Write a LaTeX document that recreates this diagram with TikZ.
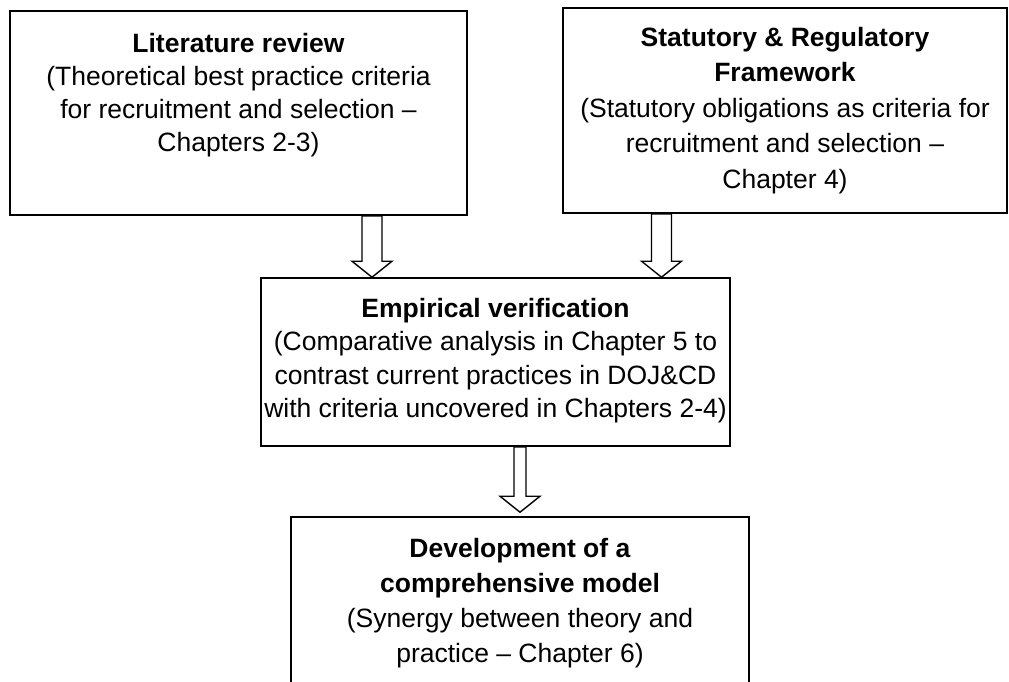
\documentclass[tikz,border=0pt]{standalone}
\usepackage{fontspec}
\setmainfont{Liberation Sans}
\usetikzlibrary{calc}

% hollow block arrow from the bottom of one box to the top of another
% #1 column coordinate, #2 source box, #3 target box, #4 shaft half width, #5 gap above target
\newcommand\blockarrow[5]{%
  \draw[arrowbody]
    ($(#2.south -| #1)+(-#4,0)$) -- ($(#3.north -| #1)+(-#4,-16-#5)$)
    -- ($(#3.north -| #1)+(-20,-16-#5)$) -- ($(#3.north -| #1)+(0,-#5)$)
    -- ($(#3.north -| #1)+(20,-16-#5)$) -- ($(#3.north -| #1)+(#4,-16-#5)$)
    -- ($(#2.south -| #1)+(#4,0)$) -- cycle;}

\begin{document}
\begin{tikzpicture}[x=1pt,y=-1pt,
  flowbox/.style={draw=black, line width=1.6pt, fill=white, inner sep=0pt},
  boxtext/.style={anchor=north, inner sep=0pt, align=center,
    font=\fontsize{26.5}{33}\selectfont},
  arrowbody/.style={draw=black, line width=1.4pt, fill=white, line join=miter}]
  \useasboundingbox (0,0) rectangle (1009,681);
  \clip (0,0) rectangle (1009,681);

  % boxes
  \node[flowbox, minimum width=457pt, minimum height=204pt] (lit) at (238.5,113) {};
  \node[flowbox, minimum width=444pt, minimum height=205pt] (stat) at (785,110.5) {};
  \node[flowbox, minimum width=469pt, minimum height=168pt] (emp) at (495.5,362) {};
  \node[flowbox, minimum width=458pt, minimum height=203pt] (dev) at (520,618.5) {};

  % box texts
  \node[boxtext] (litT) at ($(lit.north)+(0,18.5)$)
    {\strut\textbf{Literature review}\\(Theoretical best practice criteria\\for recruitment and selection –\\Chapters 2-3)};
  \node[boxtext, font=\fontsize{26.5}{35.5}\selectfont] (statT) at ($(stat.north)+(0,14)$)
    {\strut\textbf{Statutory \& Regulatory}\\\textbf{Framework}\\(Statutory obligations as criteria for\\recruitment and selection –\\Chapter 4)};
  \node[boxtext, font=\fontsize{26.5}{33.5}\selectfont] (empT) at ($(emp.north)+(0,16.5)$)
    {\strut\textbf{Empirical verification}\\(Comparative analysis in Chapter 5 to\\contrast current practices in DOJ\&CD\\with criteria uncovered in Chapters 2-4)};
  \node[boxtext, font=\fontsize{26.5}{35}\selectfont] (devT) at ($(dev.north)+(0,16.5)$)
    {\strut\textbf{Development of a}\\\textbf{comprehensive model}\\(Synergy between theory and\\practice – Chapter 6)};

  % arrow columns
  \coordinate (c1) at (372,0);
  \coordinate (c2) at (661.5,0);
  \coordinate (c3) at (520,0);

  % arrows
  \blockarrow{c1}{lit}{emp}{10}{0}
  \blockarrow{c2}{stat}{emp}{10}{0}
  \blockarrow{c3}{emp}{dev}{6}{4}
\end{tikzpicture}
\end{document}
